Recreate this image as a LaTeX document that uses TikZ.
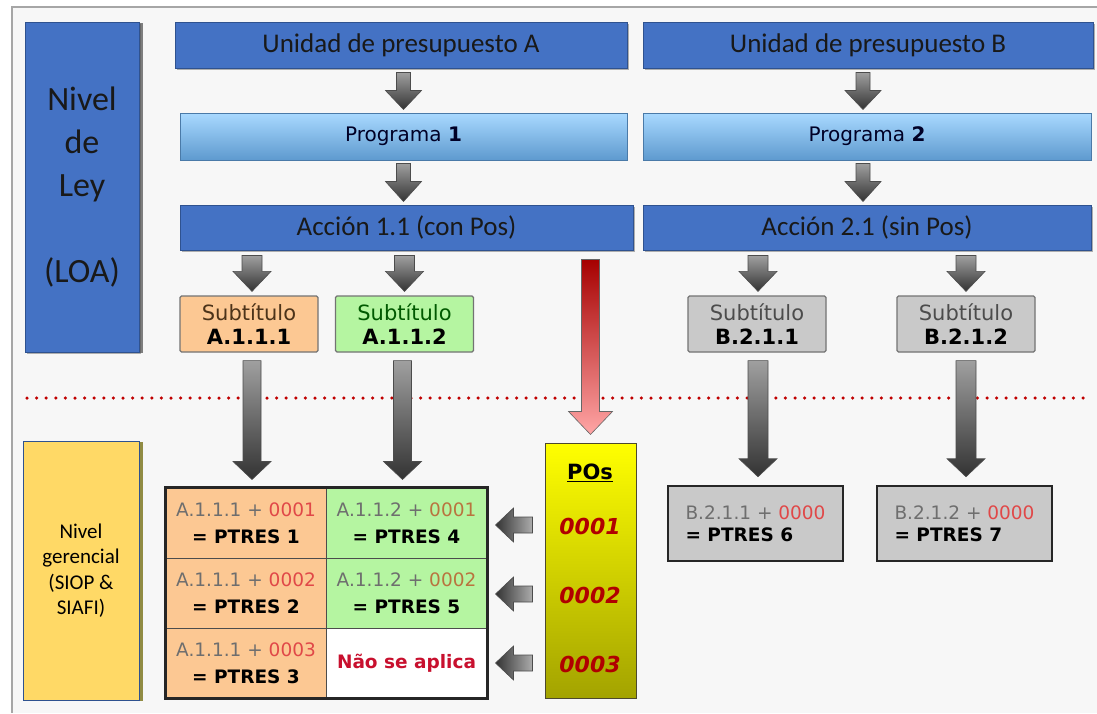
\documentclass[tikz,border=0pt]{standalone}
\usepackage{fontspec}
\usetikzlibrary{calc,shadows}
\newfontfamily\calfont{Carlito}
\newfontfamily\vfont{DejaVu Sans}
\definecolor{bgc}{HTML}{F7F7F7}
\definecolor{framec}{HTML}{A6A6A6}
\definecolor{blueA}{HTML}{4472C4}
\definecolor{blueB}{HTML}{2F528F}
\definecolor{progtop}{HTML}{A9D9FF}
\definecolor{progbot}{HTML}{5E9ACF}
\definecolor{progline}{HTML}{4A7AA8}
\definecolor{orangec}{HTML}{FCC893}
\definecolor{greenc}{HTML}{B5F5A1}
\definecolor{grayc}{HTML}{C9C9C9}
\definecolor{yelc}{HTML}{FFD966}
\definecolor{dotred}{HTML}{C00000}
\definecolor{codegray}{HTML}{6E6E6E}
\definecolor{numred}{HTML}{E04848}
\definecolor{numbrown}{HTML}{B9743F}
\definecolor{poyel}{HTML}{FFFF00}
\definecolor{poolive}{HTML}{A3A300}
\definecolor{ponum}{HTML}{B00000}
\definecolor{noapl}{HTML}{C8102E}

% block arrow pointing down: start, tip, shaft half width, head half width, head length, style
\newcommand\arrowdown[6]{%
  \path[#6] let \p1=#1, \p2=#2 in
    (\x1-#3,\y1) -- (\x1+#3,\y1) -- (\x1+#3,\y2+#5) -- (\x1+#4,\y2+#5)
    -- (\x1,\y2) -- (\x1-#4,\y2+#5) -- (\x1-#3,\y2+#5) -- cycle;}
% block arrow pointing left: start, tip, shaft half height, head half height, head length, style
\newcommand\arrowleft[6]{%
  \path[#6] let \p1=#1, \p2=#2 in
    (\x1,\y1-#3) -- (\x1,\y1+#3) -- (\x2+#5,\y1+#3) -- (\x2+#5,\y1+#4)
    -- (\x2,\y1) -- (\x2+#5,\y1-#4) -- (\x2+#5,\y1-#3) -- cycle;}

\begin{document}
\begin{tikzpicture}[x=1pt,y=-1pt,
  bluebar/.style={draw=blueB, line width=1pt, fill=blueA, minimum height=46pt,
    inner sep=0pt, text=black!90, font=\calfont\fontsize{27}{30}\selectfont,
    drop shadow={shadow xshift=2pt, shadow yshift=-2pt, fill=black!60, opacity=0.5}},
  progbar/.style={draw=progline, line width=1pt, top color=progtop, bottom color=progbot,
    minimum height=47pt, inner sep=0pt, text=black!85!blue,
    font=\vfont\fontsize{20}{24}\selectfont},
  subbox/.style={draw=black!55, line width=1.2pt, rounded corners=1.5pt,
    minimum width=138pt, minimum height=56pt, inner sep=0pt, align=center,
    font=\vfont\fontsize{21}{24}\selectfont},
  cell/.style={draw=black!70, line width=1pt, minimum height=70pt, inner sep=0pt,
    align=center, font=\vfont\fontsize{18.5}{27}\selectfont},
  resbox/.style={draw=black!85, line width=2.5pt, fill=grayc, minimum width=175pt,
    minimum height=75pt, inner sep=0pt, align=left,
    font=\vfont\fontsize{18.5}{22}\selectfont},
  ponum/.style={text=ponum, font=\vfont\fontsize{22}{24}\selectfont\bfseries\itshape},
  grayarrow/.style={draw=black!70, line width=0.6pt, top color=gray!75, bottom color=black!80},
  leftarrow/.style={draw=black!70, line width=0.6pt, left color=black!80, right color=gray!65},
  redarrow/.style={draw=black!60, line width=0.6pt, top color=red!65!black,
    middle color=red!90!magenta, bottom color=red!35!white}
]
\useasboundingbox (0,0) rectangle (1097,713);
\fill[bgc] (12,7) rectangle (1097,713);
\draw[framec, line width=2.5pt] (12,713) -- (12,7) -- (1097,7);

% level markers on the left
\node[bluebar, minimum width=114pt, minimum height=330pt, align=center,
  font=\calfont\fontsize{34}{43}\selectfont,
  drop shadow={shadow xshift=4pt, shadow yshift=-1pt, fill=black!70, opacity=0.7}]
  (ley) at (82,187) {Nivel\\de\\Ley\\[43pt](LOA)};
\node[draw=blueB, line width=0.8pt, fill=yelc, minimum width=116pt, minimum height=259pt,
  inner sep=0pt, align=center, font=\calfont\fontsize{21}{25.5}\selectfont,
  drop shadow={shadow xshift=4pt, shadow yshift=-1pt, fill=olive!80!black, opacity=0.8}]
  (ger) at (81,570.5) {Nivel\\gerencial\\(SIOP \&\\SIAFI)};

% separation between the two levels
\coordinate (dl) at (27,398);
\coordinate (dr) at (1085,398);
\draw[dotred, line width=3.5pt, line cap=round, dash pattern=on 0pt off 9.6pt] (dl) -- (dr);

% budget hierarchy
\node[bluebar, minimum width=452pt] (uA) at (401,45) {Unidad de presupuesto A};
\node[bluebar, minimum width=450pt] (uB) at (868,45) {Unidad de presupuesto B};
\node[progbar, minimum width=447pt] (pA) at (403.5,136.5) {Programa \textbf{1}};
\node[progbar, minimum width=448pt] (pB) at (867,136.5) {Programa \textbf{2}};
\node[bluebar, minimum width=453pt, minimum height=45pt] (aA) at (406.5,227.5) {Acción 1.1 (con Pos)};
\node[bluebar, minimum width=448pt, minimum height=45pt] (aB) at (867,227.5) {Acción 2.1 (sin Pos)};

\node[subbox, fill=orangec] (sA1) at (249,324)
  {\textcolor{black!60!brown}{Subtítulo}\\\textbf{A.1.1.1}};
\node[subbox, fill=greenc] (sA2) at (404.5,324)
  {\textcolor{black!65!green}{Subtítulo}\\\textbf{A.1.1.2}};
\node[subbox, fill=grayc] (sB1) at (757,324)
  {\textcolor{black!70}{Subtítulo}\\\textbf{B.2.1.1}};
\node[subbox, fill=grayc] (sB2) at (966,324)
  {\textcolor{black!70}{Subtítulo}\\\textbf{B.2.1.2}};

% PTRES table
\node[cell, fill=orangec, minimum width=160pt] (c11) at (246,523)
  {\textcolor{codegray}{A.1.1.1 + }\textcolor{numred}{0001}\\\textbf{= PTRES 1}};
\node[cell, fill=greenc, minimum width=161pt] (c12) at (406.5,523)
  {\textcolor{codegray}{A.1.1.2 + }\textcolor{numbrown}{0001}\\\textbf{= PTRES 4}};
\node[cell, fill=orangec, minimum width=160pt] (c21) at (246,593)
  {\textcolor{codegray}{A.1.1.1 + }\textcolor{numred}{0002}\\\textbf{= PTRES 2}};
\node[cell, fill=greenc, minimum width=161pt] (c22) at (406.5,593)
  {\textcolor{codegray}{A.1.1.2 + }\textcolor{numbrown}{0002}\\\textbf{= PTRES 5}};
\node[cell, fill=orangec, minimum width=160pt] (c31) at (246,663)
  {\textcolor{codegray}{A.1.1.1 + }\textcolor{numred}{0003}\\\textbf{= PTRES 3}};
\node[cell, fill=white, minimum width=161pt] (c32) at (406.5,663)
  {\textcolor{noapl}{\textbf{Não se aplica}}};
\draw[black!85, line width=2.5pt] (c11.north west) rectangle (c32.south east);

% POs column
\node[draw=black!60!olive, line width=1pt, top color=poyel, bottom color=poolive,
  minimum width=91pt, minimum height=255pt, inner sep=0pt] (pos) at (590.5,570.5) {};
\node[font=\vfont\fontsize{21}{24}\selectfont\bfseries] (posh) at (590,473) {\underline{POs}};
\node[ponum] (po1) at (590,526) {0001};
\node[ponum] (po2) at (590,595) {0002};
\node[ponum] (po3) at (590,664) {0003};

% results for Acción 2.1
\node[resbox] (bB1) at (755.5,523.5)
  {\textcolor{codegray}{B.2.1.1 + }\textcolor{numred}{0000}\\\textbf{= PTRES 6}};
\node[resbox] (bB2) at (964.5,523.5)
  {\textcolor{codegray}{B.2.1.2 + }\textcolor{numred}{0000}\\\textbf{= PTRES 7}};

% arrows between levels of the hierarchy
\arrowdown{($(pA.north |- uA.south)+(0,4)$)}{($(pA.north)+(0,-3)$)}{7pt}{18pt}{19pt}{grayarrow}
\arrowdown{($(pB.north |- uB.south)+(-4,4)$)}{($(pB.north)+(-4,-3)$)}{7pt}{18pt}{19pt}{grayarrow}
\arrowdown{($(pA.south)+(0,3)$)}{($(pA.south |- aA.north)+(0,-3)$)}{7pt}{18pt}{20pt}{grayarrow}
\arrowdown{($(pB.south)+(-4,3)$)}{($(pB.south |- aB.north)+(-4,-3)$)}{7pt}{18pt}{20pt}{grayarrow}

\arrowdown{($(sA1.north |- aA.south)+(3,5)$)}{($(sA1.north)+(3,-4)$)}{10pt}{19pt}{20pt}{grayarrow}
\arrowdown{($(sA2.north |- aA.south)+(0,5)$)}{($(sA2.north)+(0,-4)$)}{10pt}{19pt}{20pt}{grayarrow}
\arrowdown{($(sB1.north |- aB.south)+(1,5)$)}{($(sB1.north)+(1,-4)$)}{10pt}{19pt}{20pt}{grayarrow}
\arrowdown{($(sB2.north |- aB.south)+(0,5)$)}{($(sB2.north)+(0,-4)$)}{10pt}{19pt}{20pt}{grayarrow}

\arrowdown{($(sA1.south)+(3,8)$)}{($(sA1.south |- c11.north)+(3,-8)$)}{9pt}{19pt}{18pt}{grayarrow}
\arrowdown{($(sA2.south)+(-2,8)$)}{($(sA2.south |- c12.north)+(-2,-8)$)}{9pt}{19pt}{18pt}{grayarrow}
\arrowdown{($(sB1.south)+(1,8)$)}{($(sB1.south |- bB1.north)+(1,-8)$)}{10pt}{19pt}{18pt}{grayarrow}
\arrowdown{($(sB2.south)+(0,8)$)}{($(sB2.south |- bB2.north)+(0,-8)$)}{10pt}{19pt}{18pt}{grayarrow}

% POs feed the Acción 1.1 combinations
\arrowdown{($(pos.north |- aA.south)+(0,9)$)}{($(pos.north)+(0,-8)$)}{9pt}{22pt}{23pt}{redarrow}
\arrowleft{($(pos.west |- po1)+(-12,-1)$)}{($(c12.east |- po1)+(8,-1)$)}{8pt}{17pt}{18pt}{leftarrow}
\arrowleft{($(pos.west |- po2)+(-12,-1)$)}{($(c12.east |- po2)+(8,-1)$)}{8pt}{17pt}{18pt}{leftarrow}
\arrowleft{($(pos.west |- po3)+(-12,-1)$)}{($(c12.east |- po3)+(8,-1)$)}{8pt}{17pt}{18pt}{leftarrow}
\end{tikzpicture}
\end{document}
